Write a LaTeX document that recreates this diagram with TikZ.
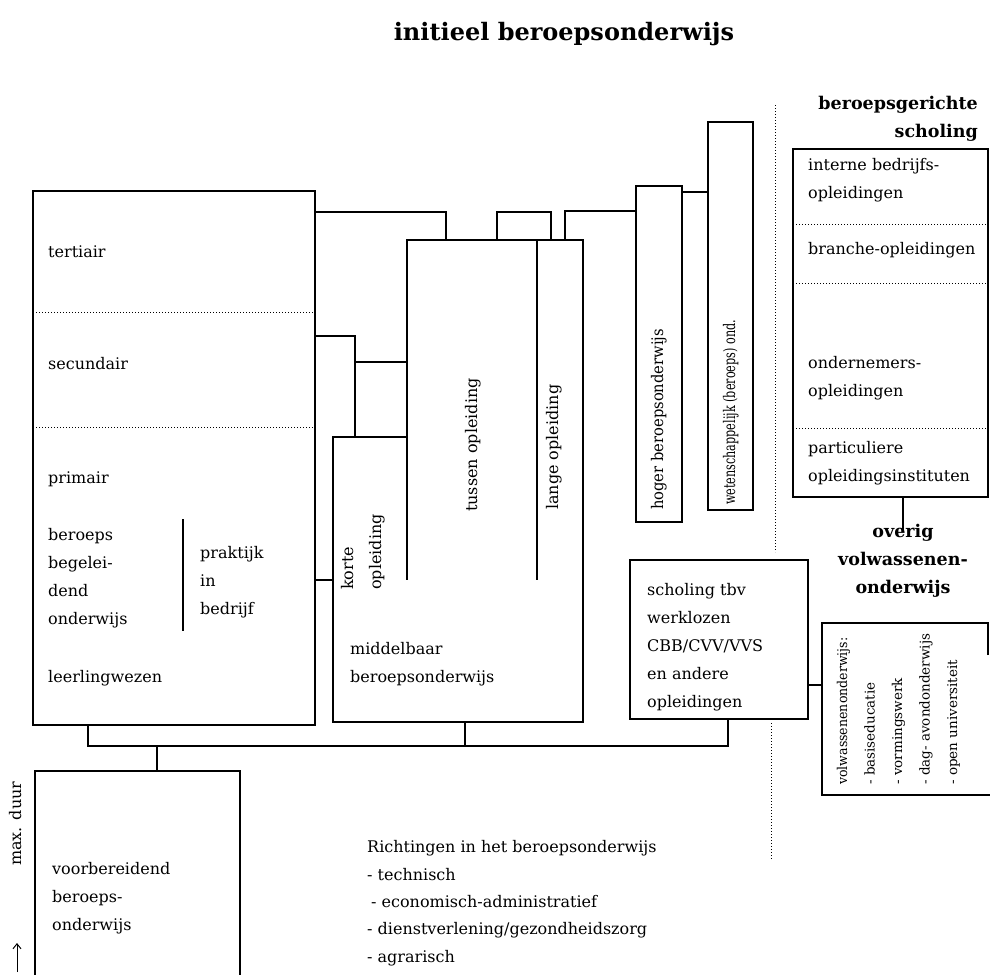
\documentclass[tikz,border=0pt]{standalone}
\usepackage{fontspec}
\usepackage{graphicx}
\setmainfont{DejaVu Serif}
\usetikzlibrary{arrows.meta}

\begin{document}
\begin{tikzpicture}[x=1pt, y=-1pt, >=Stealth,
		box/.style={draw, line width=2.2pt, inner sep=0pt},
		lijn/.style={line width=2.2pt},
		stip/.style={line width=1pt, dash pattern=on 1pt off 2pt},
		txt/.style={anchor=base west, inner sep=0pt, align=left, font=\fontsize{16}{28}\selectfont},
		vtxt/.style={txt, rotate=90},
		kop/.style={inner sep=0pt, font=\fontsize{17.5}{28}\selectfont\bfseries}]
		
		\useasboundingbox (0,0) rectangle (990,974);
		
		% --- TITEL ---
		\node[kop, anchor=base, font=\fontsize{24}{28}\selectfont\bfseries] (titel) at (564,41) {initieel beroepsonderwijs};
		
		% --- LEERLINGWEZEN ---
		% (bij meerdere regels ligt 'base' op de laatste regel)
		\node[box, minimum width=282pt, minimum height=534pt] (lbox) at (174,458) {};
		\draw[stip] (33,312) -- (315,312); % tertiair / secundair
		\draw[stip] (33,427) -- (315,427); % secundair / primair
		\node[txt] (tert) at (48,257) {tertiair};
		\node[txt] (sec) at (48,369) {secundair};
		\node[txt] (prim) at (48,483) {primair};
		\node[txt] (bbo) at (48,624) {beroeps\\begelei-\\dend\\onderwijs};
		\draw[line width=2.4pt] (183,519) -- (183,631);
		\node[txt] (prak) at (200,614) {praktijk\\in\\bedrijf};
		\node[txt] (llw) at (48,682) {leerlingwezen};
		
		% --- MIDDELBAAR BEROEPSONDERWIJS ---
		\coordinate (mbo-a) at (333,437);
		\coordinate (mbo-b) at (407,437);
		\coordinate (tus-nw) at (407,240);
		\coordinate (mbo-ne) at (583,240);
		\coordinate (mbo-se) at (583,722);
		\coordinate (mbo-sw) at (333,722);
		\draw[lijn] (mbo-a) -- (mbo-b) -- (tus-nw) -- (mbo-ne) -- (mbo-se) -- (mbo-sw) -- cycle;
		\draw[lijn] (mbo-b) -- (407,580);
		\draw[lijn] (537,240) -- (537,580); % tussen / lange
		\node[vtxt] (korte) at (381,590) {korte\\opleiding};
		\node[vtxt] (tussen) at (477,512) {tussen opleiding};
		\node[vtxt] (lange) at (558,510) {lange opleiding};
		\node[txt] (mbo) at (350,682) {middelbaar\\beroepsonderwijs};
		
		% --- HOGER EN WETENSCHAPPELIJK ONDERWIJS ---
		\node[box, minimum width=46pt, minimum height=336pt] (hbo) at (659,354) {};
		\node[vtxt] (hbotxt) at (663,510) {\scalebox{0.92}[1]{hoger beroepsonderwijs}};
		\node[box, minimum width=45pt, minimum height=388pt] (wo) at (730.5,316) {};
		\node[vtxt] (wotxt) at (735,505) {\scalebox{0.7}[1]{wetenschappelijk (beroeps) ond.}};
		
		% --- VERBINDINGEN BOVEN ---
		\coordinate (j1) at (446,212);
		\draw[lijn] (lbox.east |- j1) -| (j1 |- tus-nw);
		\coordinate (j2) at (355,336);
		\draw[lijn] (lbox.east |- j2) -| (j2 |- mbo-a);
		\coordinate (j3) at (355,362);
		\draw[lijn] (j3) -- (j3 -| tus-nw);
		\coordinate (j4) at (333,580);
		\draw[lijn] (lbox.east |- j4) -- (j4);
		\coordinate (j5) at (497,212);
		\coordinate (j6) at (551,212);
		\draw[lijn] (j5 |- tus-nw) -- (j5) -- (j6) -- (j6 |- tus-nw);
		\coordinate (j7) at (565,211);
		\draw[lijn] (j7 |- tus-nw) |- (hbo.west |- j7);
		\coordinate (j8) at (695,192);
		\draw[lijn] (hbo.east |- j8) -- (wo.west |- j8);
		
		% --- SCHEIDING ---
		\draw[stip] (775,105) -- (775,552);
		\draw[stip] (771,723) -- (771,860);
		
		% --- BEROEPSGERICHTE SCHOLING ---
		\node[kop, anchor=base east, align=right] (bgs) at (978,137) {beroepsgerichte\\scholing};
		\node[box, minimum width=195pt, minimum height=348pt] (bsbox) at (890.5,323) {};
		\draw[stip] (793,224) -- (988,224);
		\draw[stip] (793,283) -- (988,283);
		\draw[stip] (793,428) -- (988,428);
		\node[txt] (intern) at (808,198) {interne bedrijfs-\\opleidingen};
		\node[txt] (branche) at (808,254) {branche-opleidingen};
		\node[txt] (ondern) at (808,396) {ondernemers-\\opleidingen};
		\node[txt] (partic) at (808,481) {particuliere\\opleidingsinstituten};
		
		% --- OVERIG VOLWASSENENONDERWIJS ---
		\node[kop, anchor=base, align=center] (ovw) at (903,593) {overig\\volwassenen-\\onderwijs};
		\draw[lijn] (bsbox.south -| ovw) -- ([yshift=-8pt]ovw.north);
		\node[box, minimum width=178pt, minimum height=159pt] (werkl) at (719,639.5) {};
		\node[txt] (werkltxt) at (647,707) {scholing tbv\\werklozen\\CBB/CVV/VVS\\en andere\\opleidingen};
		\coordinate (vw-nw) at (822,623);
		\coordinate (vw-ne) at (988,623);
		\coordinate (vw-sw) at (822,795);
		\coordinate (vw-se) at (990,795);
		\draw[lijn] (988,655) -- (vw-ne) -- (vw-nw) -- (vw-sw) -- (vw-se);
		\coordinate (j9) at (815,685);
		\draw[lijn] (werkl.east |- j9) -- (vw-nw |- j9);
		\node[vtxt, font=\fontsize{13.5}{27.5}\selectfont] (vwo) at (957,785) {\scalebox{0.93}[1]{volwassenenonderwijs:}\\- basiseducatie\\- vormingswerk\\- dag- avondonderwijs\\- open universiteit};
		
		% --- VERBINDINGEN ONDER ---
		\coordinate (j11) at (88,746);
		\coordinate (j12) at (728,746);
		\draw[lijn] (lbox.south -| j11) |- (j12) -- (werkl.south -| j12);
		\coordinate (j10) at (465,746);
		\draw[lijn] (mbo-sw -| j10) -- (j10);
		\coordinate (j13) at (157,746);
		\coordinate (vbo-nw) at (35,771);
		\coordinate (vbo-ne) at (240,771);
		\draw[lijn] (j13) -- (j13 |- vbo-nw);
		
		% --- VOORBEREIDEND BEROEPSONDERWIJS ---
		\draw[lijn] (35,976) -- (vbo-nw) -- (vbo-ne) -- (240,976);
		\node[txt] (vbo) at (52,930) {voorbereidend\\beroeps-\\onderwijs};
		\node[vtxt] (duur) at (21,866) {max. duur};
		\coordinate (pijl-a) at (17,972);
		\coordinate (pijl-b) at (17,943);
		\draw[-{Straight Barb[length=5pt, width=8pt]}, line width=1pt] (pijl-a) -- (pijl-b);
		
		% --- RICHTINGEN ---
		\node[txt, font=\fontsize{16}{27.3}\selectfont] (richt) at (367,962) {Richtingen in het beroepsonderwijs\\- technisch\\\hspace*{4pt}- economisch-administratief\\- dienstverlening/gezondheidszorg\\- agrarisch};
		
	\end{tikzpicture}
\end{document}
